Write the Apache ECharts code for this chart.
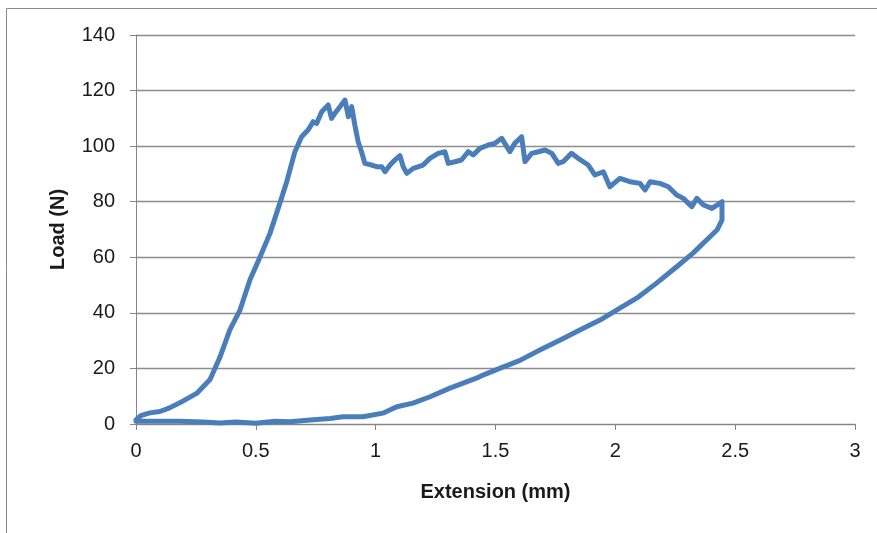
<!DOCTYPE html>
<html>
<head>
<meta charset="utf-8">
<script src="https://cdn.jsdelivr.net/npm/echarts@6/dist/echarts.min.js"></script>
<style>
  body { margin: 0; background: #fff; }
  #main { width: 877px; height: 533px; }
</style>
</head>
<body>
<div id="main"></div>
<script>
var extension = [
  0, 0.02, 0.058, 0.1, 0.14, 0.197, 0.253, 0.309, 0.35, 0.392, 0.434, 0.476, 0.517, 0.559, 0.6,
  0.629, 0.663, 0.691, 0.718, 0.739, 0.754, 0.775, 0.802, 0.816, 0.83, 0.851, 0.872, 0.886, 0.9,
  0.913, 0.927, 0.941, 0.955, 0.983, 1.004, 1.025, 1.039, 1.06, 1.08, 1.101, 1.115, 1.13, 1.157,
  1.198, 1.226, 1.261, 1.289, 1.303, 1.331, 1.358, 1.386, 1.407, 1.435, 1.47, 1.498, 1.526, 1.56,
  1.58, 1.609, 1.623, 1.651, 1.679, 1.707, 1.735, 1.762, 1.782, 1.817, 1.845, 1.887, 1.915, 1.95,
  1.977, 2.019, 2.061, 2.103, 2.124, 2.145, 2.186, 2.221, 2.256, 2.284, 2.319, 2.34, 2.368, 2.403,
  2.424, 2.445, 2.445,
  2.424, 2.395, 2.324, 2.256, 2.172, 2.089, 2.019, 1.936, 1.852, 1.77, 1.685, 1.6, 1.52, 1.448,
  1.42, 1.31, 1.227, 1.156, 1.088, 1.03, 0.947, 0.864, 0.81, 0.726, 0.642, 0.58, 0.5, 0.417,
  0.35, 0.28, 0.18, 0.1, 0
];
var load = [
  1.5, 3, 4, 4.5, 5.8, 8.3, 11, 16, 24, 34, 41, 52, 60, 68.6, 79.4,
  87.2, 98, 103.4, 105.8, 108.8, 108.2, 112.4, 114.8, 110, 111.8, 114.2, 116.6, 110.6, 114.2,
  107.6, 101.6, 98, 93.8, 93.2, 92.6, 92.6, 90.8, 93.2, 95, 96.6, 92.6, 90.2, 92,
  93.2, 95.6, 97.4, 98, 93.8, 94.4, 95, 98, 96.8, 99.2, 100.4, 101, 102.8, 98,
  101, 103.4, 94.4, 97.4, 98, 98.6, 97.4, 93.8, 94.4, 97.4, 95.6, 93.2, 89.6, 90.8,
  85.4, 88.4, 87.2, 86.6, 84.2, 87.2, 86.6, 85.4, 82.4, 81.2, 78.2, 81.2, 78.8, 77.6,
  78.8, 80, 73.4,
  69.8, 67.4, 61.5, 56.6, 50.7, 45.3, 41.7, 37.4, 33.8, 30.2, 26.6, 22.8, 20.1, 17.6,
  16.5, 12.9, 9.8, 7.5, 6.2, 3.9, 2.6, 2.6, 2, 1.4, 0.8, 1, 0.3, 0.7,
  0.4, 0.7, 1, 1, 1
];

var points = [];
for (var i = 0; i < extension.length; i++) {
  points.push([extension[i], load[i]]);
}

var font = '"Liberation Sans", "DejaVu Sans", sans-serif';
var myChart = echarts.init(document.getElementById('main'));
myChart.setOption({
  animation: false,
  graphic: [
    {
      type: 'rect',
      shape: { x: 6.5, y: 8.5, width: 900, height: 600 },
      style: { fill: 'none', stroke: '#8a8a8a', lineWidth: 1 }
    }
  ],
  grid: { left: 136, right: 22, top: 35, bottom: 109 },
  xAxis: {
    type: 'value',
    min: 0,
    max: 3,
    interval: 0.5,
    name: 'Extension (mm)',
    nameLocation: 'middle',
    nameGap: 58,
    nameTextStyle: { fontFamily: font, fontSize: 20, fontWeight: 'bold', color: '#1a1a1a' },
    axisLine: { lineStyle: { color: '#868686', width: 1 } },
    axisTick: { show: true, length: 6, lineStyle: { color: '#868686' } },
    axisLabel: { fontFamily: font, fontSize: 20, color: '#1a1a1a', margin: 17 },
    splitLine: { show: false }
  },
  yAxis: {
    type: 'value',
    min: 0,
    max: 140,
    interval: 20,
    name: 'Load (N)',
    nameLocation: 'middle',
    nameGap: 68,
    nameTextStyle: { fontFamily: font, fontSize: 20, fontWeight: 'bold', color: '#1a1a1a' },
    axisLine: { show: true, lineStyle: { color: '#868686', width: 1 } },
    axisTick: { show: true, length: 6, lineStyle: { color: '#868686' } },
    axisLabel: { fontFamily: font, fontSize: 20, color: '#1a1a1a', margin: 21 },
    splitLine: { show: true, lineStyle: { color: '#8c8c8c', width: 1.3 } }
  },
  series: [
    {
      type: 'line',
      data: points,
      showSymbol: false,
      lineStyle: { color: '#4a7ebb', width: 5, join: 'round', cap: 'round' }
    }
  ]
});
</script>
</body>
</html>
